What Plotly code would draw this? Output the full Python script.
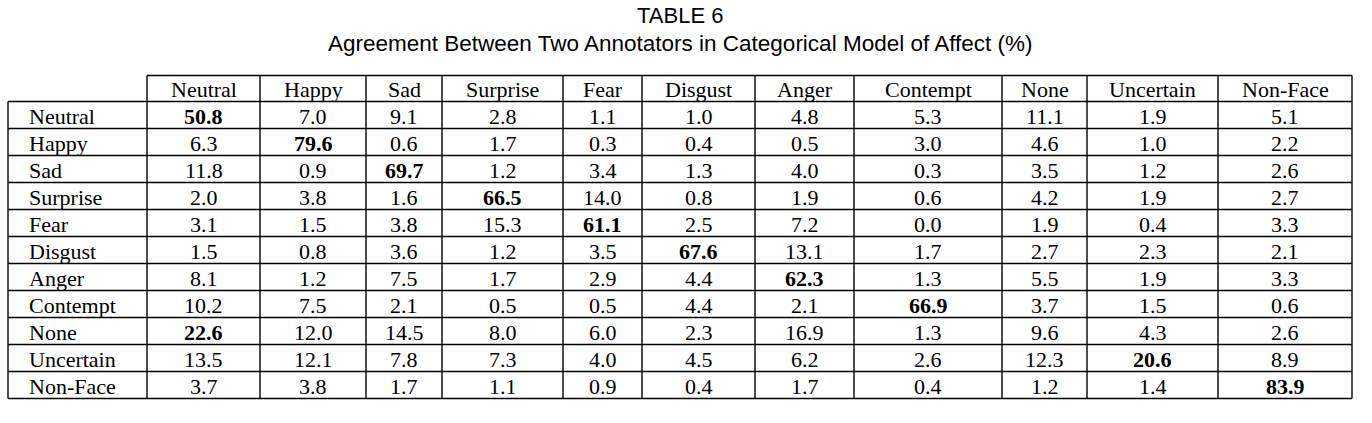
import plotly.graph_objects as go

title_line1 = "TABLE 6"
title_line2 = "Agreement Between Two Annotators in Categorical Model of Affect (%)"

categories = ["Neutral", "Happy", "Sad", "Surprise", "Fear", "Disgust",
              "Anger", "Contempt", "None", "Uncertain", "Non-Face"]

neutral   = [50.8, 7.0, 9.1, 2.8, 1.1, 1.0, 4.8, 5.3, 11.1, 1.9, 5.1]
happy     = [6.3, 79.6, 0.6, 1.7, 0.3, 0.4, 0.5, 3.0, 4.6, 1.0, 2.2]
sad       = [11.8, 0.9, 69.7, 1.2, 3.4, 1.3, 4.0, 0.3, 3.5, 1.2, 2.6]
surprise  = [2.0, 3.8, 1.6, 66.5, 14.0, 0.8, 1.9, 0.6, 4.2, 1.9, 2.7]
fear      = [3.1, 1.5, 3.8, 15.3, 61.1, 2.5, 7.2, 0.0, 1.9, 0.4, 3.3]
disgust   = [1.5, 0.8, 3.6, 1.2, 3.5, 67.6, 13.1, 1.7, 2.7, 2.3, 2.1]
anger     = [8.1, 1.2, 7.5, 1.7, 2.9, 4.4, 62.3, 1.3, 5.5, 1.9, 3.3]
contempt  = [10.2, 7.5, 2.1, 0.5, 0.5, 4.4, 2.1, 66.9, 3.7, 1.5, 0.6]
none_row  = [22.6, 12.0, 14.5, 8.0, 6.0, 2.3, 16.9, 1.3, 9.6, 4.3, 2.6]
uncertain = [13.5, 12.1, 7.8, 7.3, 4.0, 4.5, 6.2, 2.6, 12.3, 20.6, 8.9]
non_face  = [3.7, 3.8, 1.7, 1.1, 0.9, 0.4, 1.7, 0.4, 1.2, 1.4, 83.9]

rows = [neutral, happy, sad, surprise, fear, disgust, anger, contempt,
        none_row, uncertain, non_face]

# ---- layout (pixel-like axis units) ----
W, H = 1372, 423
col_edges = [8, 147, 260, 366, 442, 563, 642, 755, 854, 1002, 1087, 1218, 1352]
table_top = 75.5
header_h = 26.0
row_h = 27.0
label_x = 27
serif = "Liberation Serif"
sans = "Liberation Sans, Arial"
fsize = 22
line_w = 1.4

shapes = []
annotations = []

def line(x0, y0, x1, y1):
    shapes.append(dict(type="line", xref="x", yref="y", x0=x0, y0=y0, x1=x1, y1=y1,
                       line=dict(color="black", width=line_w)))

n = len(rows)
header_bottom = table_top + header_h
table_bottom = header_bottom + n * row_h

# horizontal lines
line(col_edges[1], table_top, col_edges[-1], table_top)
for i in range(n + 1):
    y = header_bottom + i * row_h
    line(col_edges[0], y, col_edges[-1], y)
# vertical lines
line(col_edges[0], header_bottom, col_edges[0], table_bottom)
for x in col_edges[1:]:
    line(x, table_top, x, table_bottom)

# header text
for j, c in enumerate(categories):
    xc = (col_edges[j + 1] + col_edges[j + 2]) / 2
    annotations.append(dict(x=xc, y=table_top + header_h / 2 + 1, xref="x", yref="y",
                            text=c, showarrow=False, xanchor="center", yanchor="middle",
                            font=dict(family=serif, size=fsize, color="black")))

# body
for i, (name, vals) in enumerate(zip(categories, rows)):
    yc = header_bottom + (i + 0.5) * row_h + 1
    annotations.append(dict(x=label_x, y=yc, xref="x", yref="y", text=name,
                            showarrow=False, xanchor="left", yanchor="middle",
                            font=dict(family=serif, size=fsize, color="black")))
    vmax = max(vals)
    for j, v in enumerate(vals):
        xc = (col_edges[j + 1] + col_edges[j + 2]) / 2
        t = f"{v:.1f}"
        if v == vmax:
            t = f"<b>{t}</b>"
        annotations.append(dict(x=xc, y=yc, xref="x", yref="y", text=t,
                                showarrow=False, xanchor="center", yanchor="middle",
                                font=dict(family=serif, size=fsize, color="black")))

# titles
annotations.append(dict(x=680, y=15, xref="x", yref="y", text=title_line1,
                        showarrow=False, xanchor="center", yanchor="middle",
                        font=dict(family=sans, size=22, color="black")))
annotations.append(dict(x=680, y=43, xref="x", yref="y", text=title_line2,
                        showarrow=False, xanchor="center", yanchor="middle",
                        font=dict(family=sans, size=22.5, color="black")))

fig = go.Figure()
fig.update_layout(
    width=W, height=H,
    margin=dict(l=0, r=0, t=0, b=0),
    paper_bgcolor="white", plot_bgcolor="white",
    xaxis=dict(range=[0, W], visible=False, fixedrange=True),
    yaxis=dict(range=[H, 0], visible=False, fixedrange=True),
    shapes=shapes, annotations=annotations, showlegend=False,
)
fig.write_html("out.html", config={"displayModeBar": False},
               post_script="document.body.style.margin='0';")
